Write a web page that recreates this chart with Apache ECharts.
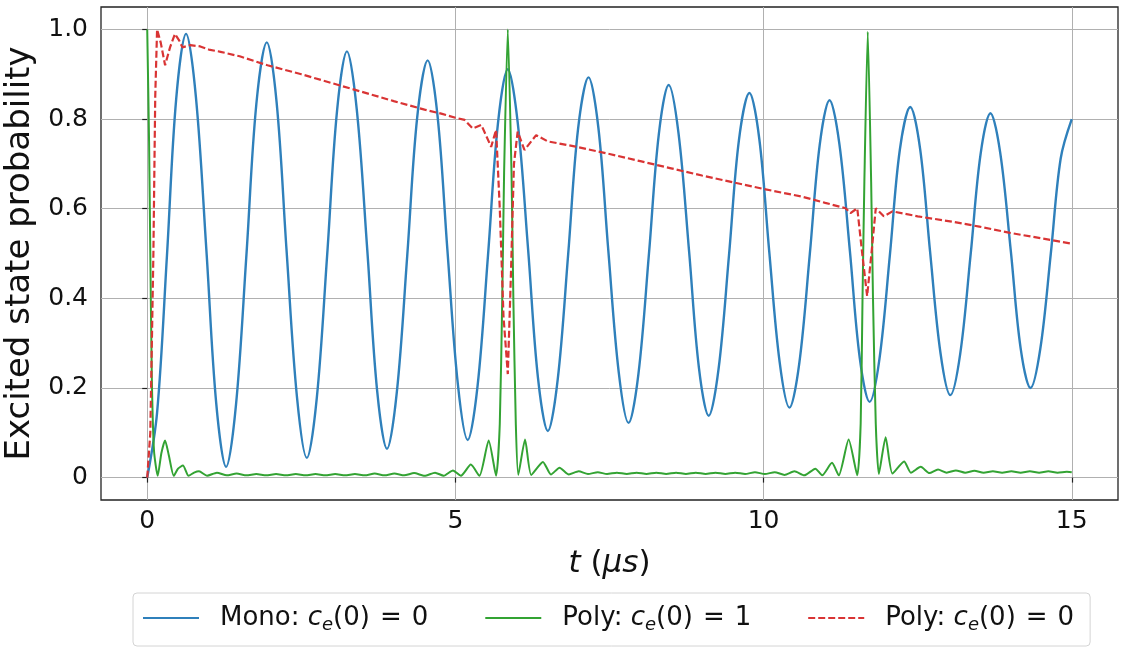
<!DOCTYPE html>
<html>
<head>
<meta charset="utf-8">
<title>Excited state probability</title>
<script src="https://cdn.jsdelivr.net/npm/echarts@6/dist/echarts.min.js"></script>
<style>
  html, body { margin: 0; padding: 0; background: #fff; }
  #main { width: 1124px; height: 658px; }
</style>
</head>
<body>
<div id="main"></div>
<script>
// tick positions
const xTicks = [0, 5, 10, 15];
const yTicks = [0, 0.2, 0.4, 0.6, 0.8, 1.0];

// Mono: c_e(0) = 0
const blueT = [
  0, 0.16, 0.32, 0.47, 0.63, 0.79, 0.96, 1.12, 1.28, 1.44, 1.61, 1.77,
  1.94, 2.10, 2.26, 2.43, 2.59, 2.75, 2.92, 3.08, 3.24, 3.40, 3.57, 3.73,
  3.89, 4.05, 4.22, 4.38, 4.55, 4.71, 4.87, 5.04, 5.20, 5.36, 5.53, 5.69,
  5.85, 6.01, 6.18, 6.34, 6.50, 6.66, 6.83, 6.99, 7.16, 7.32, 7.48, 7.65,
  7.81, 7.97, 8.14, 8.30, 8.46, 8.62, 8.79, 8.95, 9.11, 9.27, 9.44, 9.60,
  9.77, 9.93, 10.09, 10.26, 10.42, 10.58, 10.75, 10.91, 11.07, 11.23, 11.40, 11.56,
  11.72, 11.88, 12.05, 12.21, 12.38, 12.54, 12.70, 12.87, 13.03, 13.19, 13.36, 13.52,
  13.68, 13.84, 14.01, 14.17, 14.33, 14.49, 14.66, 14.82, 15.0
];
const blueV = [
  0.000, 0.145, 0.495, 0.845, 0.990, 0.849, 0.507, 0.165, 0.024, 0.162, 0.498, 0.833,
  0.971, 0.836, 0.508, 0.179, 0.044, 0.176, 0.498, 0.819, 0.951, 0.821, 0.508, 0.194,
  0.064, 0.191, 0.498, 0.804, 0.931, 0.807, 0.508, 0.208, 0.084, 0.205, 0.498, 0.790,
  0.911, 0.793, 0.508, 0.222, 0.104, 0.219, 0.499, 0.778, 0.893, 0.780, 0.508, 0.235,
  0.122, 0.232, 0.499, 0.766, 0.876, 0.768, 0.507, 0.246, 0.138, 0.243, 0.498, 0.753,
  0.858, 0.756, 0.507, 0.258, 0.156, 0.256, 0.499, 0.742, 0.842, 0.744, 0.506, 0.267,
  0.169, 0.265, 0.498, 0.731, 0.827, 0.733, 0.506, 0.278, 0.184, 0.276, 0.499, 0.721,
  0.813, 0.724, 0.507, 0.289, 0.200, 0.288, 0.500, 0.712, 0.800
];

// Poly: c_e(0) = 1
const greenT = [
  0, 0.03, 0.05, 0.075, 0.11, 0.17, 0.23, 0.29, 0.35, 0.43, 0.5, 0.58, 0.67, 0.76, 0.84, 0.97,
  1.13, 1.29, 1.45, 1.61, 1.77, 1.93, 2.09, 2.25, 2.41, 2.57, 2.73, 2.89, 3.05, 3.21, 3.37, 3.53,
  3.69, 3.85, 4.01, 4.17, 4.33, 4.5, 4.67, 4.81, 4.96, 5.09, 5.25, 5.39, 5.54, 5.66,
  5.72, 5.76, 5.79, 5.85, 5.91, 5.94, 5.98, 6.02,
  6.13, 6.23, 6.42, 6.55, 6.69, 6.84, 7.0, 7.15, 7.31, 7.46, 7.62, 7.78, 7.94, 8.1, 8.26, 8.42,
  8.58, 8.74, 8.9, 9.06, 9.22, 9.38, 9.54, 9.7, 9.86, 10.02, 10.18, 10.34, 10.5, 10.66, 10.84, 10.95,
  11.11, 11.22, 11.38, 11.52, 11.575, 11.605, 11.635, 11.69, 11.745, 11.775, 11.82, 11.87,
  11.98, 12.09, 12.28, 12.39, 12.55, 12.69, 12.83, 12.97, 13.12, 13.27, 13.42, 13.57, 13.72, 13.87,
  14.02, 14.17, 14.32, 14.47, 14.62, 14.77, 14.92, 15.0
];
const greenV = [
  1.0, 0.75, 0.5, 0.22, 0.06, 0.004, 0.055, 0.083, 0.05, 0.004, 0.02, 0.027, 0.004, 0.011, 0.014, 0.004,
  0.011, 0.005, 0.009, 0.005, 0.008, 0.005, 0.008, 0.005, 0.008, 0.005, 0.008, 0.005, 0.008, 0.005, 0.008, 0.005,
  0.009, 0.005, 0.009, 0.005, 0.010, 0.004, 0.011, 0.004, 0.016, 0.004, 0.029, 0.004, 0.083, 0.004,
  0.12, 0.4, 0.68, 1.0, 0.68, 0.4, 0.12, 0.006,
  0.085, 0.006, 0.035, 0.007, 0.022, 0.007, 0.014, 0.008, 0.012, 0.008, 0.011, 0.008, 0.011, 0.008, 0.011, 0.008,
  0.011, 0.008, 0.011, 0.008, 0.011, 0.008, 0.011, 0.008, 0.012, 0.008, 0.012, 0.006, 0.014, 0.005, 0.020, 0.005,
  0.033, 0.005, 0.085, 0.005, 0.12, 0.4, 0.66, 0.995, 0.66, 0.4, 0.12, 0.008,
  0.090, 0.009, 0.036, 0.011, 0.024, 0.010, 0.018, 0.011, 0.016, 0.011, 0.015, 0.011, 0.014, 0.011,
  0.014, 0.011, 0.014, 0.011, 0.014, 0.011, 0.013, 0.012
];

// Poly: c_e(0) = 0
const redT = [
  0, 0.05, 0.1, 0.13, 0.16, 0.22, 0.29, 0.37, 0.45, 0.52, 0.57, 0.7, 0.86, 1.0, 1.19, 1.5,
  1.95, 2.5, 3.0, 3.3, 3.5, 4.0, 4.5, 4.77, 5.0, 5.15, 5.28, 5.42, 5.58, 5.66, 5.72, 5.78,
  5.85, 5.9, 5.95, 6.01, 6.12, 6.31, 6.5, 6.66, 6.93, 7.2, 7.5, 8.0, 8.5, 9.0, 9.5, 10.0,
  10.62, 11.0, 11.33, 11.41, 11.52, 11.6, 11.68, 11.75, 11.82, 11.95, 12.09, 12.5, 13.06, 13.5,
  14.0, 14.5, 15.0
];
const redV = [
  0, 0.1, 0.5, 0.85, 1.0, 0.97, 0.92, 0.96, 0.99, 0.975, 0.96, 0.965, 0.962, 0.955, 0.95, 0.94,
  0.92, 0.9, 0.88, 0.868, 0.86, 0.84, 0.821, 0.812, 0.803, 0.798, 0.779, 0.787, 0.738, 0.776, 0.6, 0.36,
  0.231, 0.45, 0.7, 0.772, 0.731, 0.764, 0.75, 0.746, 0.739, 0.731, 0.722, 0.706, 0.69, 0.674, 0.659, 0.644,
  0.627, 0.613, 0.601, 0.59, 0.601, 0.5, 0.405, 0.5, 0.601, 0.583, 0.594, 0.583, 0.571, 0.56,
  0.546, 0.534, 0.522
];

const seriesNames = ['mono', 'poly1', 'poly0'];
const legendParts = { mono: ['Mono', '0'], poly1: ['Poly', '1'], poly0: ['Poly', '0'] };

const FONT = 'DejaVu Sans';
const pairs = (ts, vs) => ts.map((t, i) => [t, vs[i]]);

const chart = echarts.init(document.getElementById('main'));
chart.setOption({
  animation: false,
  backgroundColor: '#fff',
  grid: {
    left: 101, right: 6, top: 7, bottom: 158,
    outerBoundsMode: 'none',
    show: true,
    borderColor: '#222',
    borderWidth: 1.3
  },
  legend: {
    data: seriesNames,
    left: 133,
    top: 593,
    orient: 'horizontal',
    itemWidth: 56,
    itemHeight: 14,
    itemGap: 56,
    padding: [12, 16, 12, 9],
    borderColor: '#d4d4d4',
    borderWidth: 1,
    borderRadius: 4,
    itemStyle: { opacity: 0 },
    formatter: function (name) {
      const p = legendParts[name];
      return '{sp|}{n|' + p[0] + ': }{i|c}{s|e}{n|(0)}{eq|=}{n|' + p[1] + '}';
    },
    textStyle: {
      color: '#111',
      fontFamily: FONT,
      rich: {
        sp: { width: 16 },
        n: { fontSize: 26, lineHeight: 32, fontFamily: FONT, color: '#111' },
        eq: { fontSize: 26, lineHeight: 32, fontFamily: FONT, color: '#111', padding: [0, 10, 0, 10] },
        i: { fontSize: 26, lineHeight: 32, fontStyle: 'italic', fontFamily: FONT, color: '#111' },
        s: { fontSize: 18, lineHeight: 20, fontStyle: 'italic', verticalAlign: 'bottom', fontFamily: FONT, color: '#111' }
      }
    }
  },
  xAxis: {
    type: 'value',
    min: -0.75,
    max: 15.75,
    axisLine: { show: false },
    axisTick: { show: true, length: 5, customValues: xTicks, lineStyle: { color: '#222', width: 1.2 } },
    axisLabel: { customValues: xTicks, fontSize: 25, color: '#111', margin: 9, fontFamily: FONT },
    splitLine: { show: true, lineStyle: { color: '#b0b0b0', width: 1 } },
    name: '{i|t}{n| (}{i|μs}{n|)}',
    nameLocation: 'middle',
    nameGap: 48,
    nameTextStyle: {
      fontFamily: FONT,
      rich: {
        i: { fontSize: 31, fontStyle: 'italic', fontFamily: FONT, color: '#111' },
        n: { fontSize: 31, fontFamily: FONT, color: '#111' }
      }
    }
  },
  yAxis: {
    type: 'value',
    min: -0.05,
    max: 1.05,
    axisLine: { show: false },
    axisTick: { show: true, length: 5, customValues: yTicks, lineStyle: { color: '#222', width: 1.2 } },
    axisLabel: {
      customValues: yTicks,
      fontSize: 25,
      color: '#111',
      margin: 13,
      fontFamily: FONT,
      formatter: v => (v === 0 ? '0' : v.toFixed(1))
    },
    splitLine: { show: true, lineStyle: { color: '#b0b0b0', width: 1 } },
    name: 'Excited state probability',
    nameLocation: 'middle',
    nameRotate: 90,
    nameGap: 62,
    nameTextStyle: { fontSize: 34, fontFamily: FONT, color: '#111' }
  },
  series: [
    {
      name: 'mono',
      type: 'line',
      data: pairs(blueT, blueV),
      symbol: 'none',
      smooth: 0.35,
      lineStyle: { color: '#2f80bb', width: 2.4 },
      itemStyle: { color: '#2f80bb' }
    },
    {
      name: 'poly1',
      type: 'line',
      data: pairs(greenT, greenV),
      symbol: 'none',
      smooth: 0.2,
      lineStyle: { color: '#33a333', width: 2 },
      itemStyle: { color: '#33a333' }
    },
    {
      name: 'poly0',
      type: 'line',
      data: pairs(redT, redV),
      symbol: 'none',
      lineStyle: { color: '#d93434', width: 2.2, type: [7, 3] },
      itemStyle: { color: '#d93434' }
    }
  ]
});
</script>
</body>
</html>
